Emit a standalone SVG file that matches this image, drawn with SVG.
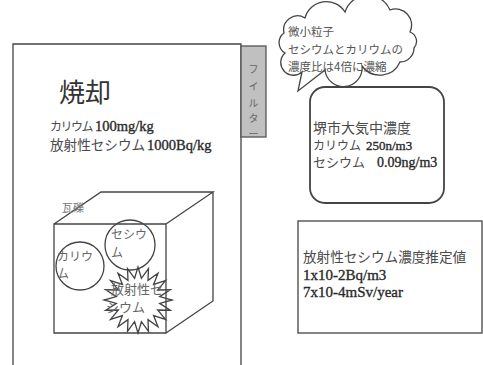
<svg xmlns="http://www.w3.org/2000/svg" width="483" height="365" viewBox="0 0 483 365">
<style>
text{font-family:"Liberation Serif","Noto Sans CJK JP",serif;fill:#2a2a2a;stroke:#2a2a2a;stroke-width:0.35;font-size:14.5px;}
.j{font-family:"Noto Sans CJK JP","Liberation Serif",sans-serif;fill:#4a4a4a;stroke:none;}
.ln{fill:none;stroke:#444;stroke-width:1.3;}
.f{font-size:10px;fill:#666;}
</style>
<rect width="483" height="365" fill="#fff"/>
<g id="main">
<path class="ln" d="M13,365 V44 H241 V365"/>
<text class="j" x="59" y="102" style="font-size:26px;fill:#333">焼却</text>
<text x="50" y="131"><tspan class="j" style="font-size:12px;letter-spacing:-1.5px">カリウム</tspan><tspan x="95">100mg/kg</tspan></text>
<text x="50" y="150"><tspan class="j" style="font-size:13.6px">放射性セシウム</tspan><tspan x="147">1000Bq/kg</tspan></text>
</g>
<g id="filter">
<rect x="241" y="46" width="25" height="91" fill="#c0c0c0" stroke="#555" stroke-width="1.3"/>
<text class="j f" x="253.5" y="73" text-anchor="middle">フ</text>
<text class="j f" x="253.5" y="90" text-anchor="middle">イ</text>
<text class="j f" x="253.5" y="107" text-anchor="middle">ル</text>
<text class="j f" x="253.5" y="122" text-anchor="middle">タ</text>
<text class="j f" x="253.5" y="138" text-anchor="middle">ー</text>
</g>
<g id="cube">
<path class="ln" d="M54,224 H166 V333 H54 Z M54,224 L101,192 H213 L166,224 M213,192 V301 L166,333"/>
<text class="j" x="62" y="212" style="font-size:11px;fill:#777">瓦礫</text>
</g>
<g id="potassium">
<circle class="ln" cx="80" cy="266" r="24"/>
<text class="j" x="57" y="261" style="font-size:12px;fill:#666">カリウ</text>
<text class="j" x="57" y="278" style="font-size:12px;fill:#666">ム</text>
</g>
<g id="cesium">
<circle class="ln" cx="130" cy="245" r="25"/>
<text class="j" x="111" y="239" style="font-size:12px;fill:#666">セシウ</text>
<text class="j" x="111" y="257" style="font-size:12px;fill:#666">ム</text>
</g>
<g id="radioactive-cesium">
<polygon class="ln" points="172,300 159.7,303.4 170.3,310.2 157.6,310 165.5,319.4 153.6,315.6 158,326.7 148,319.6 148.5,331.4 141.4,321.7 138,333 134.6,321.7 127.5,331.4 128,319.6 118,326.7 122.4,315.6 110.5,319.4 118.4,310 105.7,310.2 116.3,303.4 104,300 116.3,296.6 105.7,289.8 118.4,290 110.5,280.6 122.4,284.4 118,273.3 128,280.4 127.5,268.6 134.6,278.3 138,267 141.4,278.3 148.5,268.6 148,280.4 158,273.3 153.6,284.4 165.5,280.6 157.6,290 170.3,289.8 159.7,296.6"/>
<text class="j" x="111" y="294" style="font-size:13px;fill:#666">放射性セ</text>
<text class="j" x="106" y="312" style="font-size:13px;fill:#666">シウム</text>
</g>
<g id="callout">
<path class="ln" d="M302,72 A12,12 0 0 1 285,53 A12,12 0 0 1 284,33 A14,14 0 0 1 305,18 A22,22 0 0 1 345,12 A24,24 0 0 1 390,10 A16,16 0 0 1 410,32 A10,10 0 0 1 414,48 A14,14 0 0 1 400,62 A22,22 0 0 1 362,66 A18,18 0 0 1 325,70 L298,91 Z"/>
<text class="j" x="288" y="36" style="font-size:11.5px;fill:#555">微小粒子</text>
<text class="j" x="288" y="54" style="font-size:11.5px;fill:#555">セシウムとカリウムの</text>
<text class="j" x="288" y="71" style="font-size:11.5px;fill:#555">濃度比は4倍に濃縮</text>
</g>
<g id="sakai">
<rect x="310" y="87" width="134" height="116" rx="15" fill="none" stroke="#444" stroke-width="1.8"/>
<text class="j" x="313" y="133" style="font-size:14px">堺市大気中濃度</text>
<text x="313" y="150"><tspan class="j" style="font-size:12px">カリウム</tspan><tspan x="366" style="font-size:13px">250n/m3</tspan></text>
<text x="313" y="167"><tspan class="j" style="font-size:13px">セシウム</tspan><tspan x="377" style="font-size:14px">0.09ng/m3</tspan></text>
</g>
<g id="estimate">
<rect class="ln" x="298" y="221" width="184" height="112"/>
<text class="j" x="303" y="262" style="font-size:13.6px">放射性セシウム濃度推定値</text>
<text x="303" y="280" style="font-size:15px">1x10-2Bq/m3</text>
<text x="303" y="297" style="font-size:15px">7x10-4mSv/year</text>
</g>
<g id="connectors"></g>
</svg>
